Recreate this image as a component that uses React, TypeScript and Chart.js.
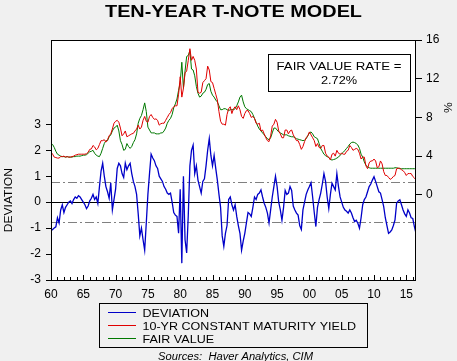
import React, { useEffect, useRef } from 'react';
import { Chart, registerables } from 'chart.js';

Chart.register(...registerables);

// ---------- data (quarterly, starting 1960 Q1) ----------
const START_YEAR = 1960;
const END_YEAR = 2016.5;
const PERIODS_PER_YEAR = 4;

const DEVIATION = [
  -1.1, -1.05, -1.0, -0.95,
  -0.6, -0.8, -0.3, -0.1,
  -0.4, -0.2, -0.1, 0.0,
  0.05, -0.05, 0.1, 0.2,
  0.15, 0.25, 0.2, 0.1,
  0.0, -0.1, -0.25, -0.15,
  0.05, 0.15, 0.3, 0.1,
  0.2, -0.05, 0.6, 1.2,
  1.5, 1.0, 0.6, 0.4,
  0.15, 0.75, -0.3, 0.1,
  0.5, 1.3, 1.5, 1.4,
  1.1, 0.95, 1.5, 1.25,
  1.4, 1.5, 1.1, 0.8,
  0.6, 0.3, -0.45, -1.3,
  -1.0, -1.45, -1.85, -0.8,
  0.3, 1.1, 1.85, 1.7,
  1.6, 1.4, 1.3, 1.0,
  0.9, 0.8, 0.6, 0.5,
  0.35, 0.3, 0.35, 0.0,
  -0.4, -0.5, -0.55, -1.2,
  0.5, -2.35, 1.0, -1.45,
  -1.96, -0.5, 1.4, 2.0,
  2.2, 1.1, 1.4, 0.85,
  0.6, 0.35, 0.8, 0.9,
  1.4, 2.0, 2.45, 1.8,
  1.4, 1.8, 1.3, 0.85,
  0.3, -0.2, -1.3, -1.7,
  -1.2, -0.9, 0.1, 0.2,
  -0.1, -0.3, -0.1, -0.55,
  -0.9, -1.2, -1.85, -1.5,
  -1.2, -0.8, -0.4, -0.45,
  -0.55, -0.2, 0.2, 0.1,
  0.3, 0.35, 0.47, 0.2,
  -0.04, -0.2, -0.42, -0.8,
  -0.3, 0.2, 0.6, 1.0,
  0.6, 0.0, -0.3, -0.7,
  -0.2, 0.45, 0.3, 0.35,
  0.6, 0.45, -0.15, -0.3,
  -0.42, -0.5, -0.9, -1.05,
  -0.3, 0.0, 0.3, 0.47,
  0.6, 0.75, 0.2, -0.4,
  -0.94, -0.2, 0.1, 0.35,
  0.7, 1.1, 0.8, 0.2,
  -0.25, 0.3, 0.73, 0.6,
  0.47, 1.1, 0.6, 0.2,
  0.0, -0.2, -0.3, -0.35,
  -0.42, -0.3, -0.42, -0.6,
  -0.75, -0.7, -0.81, -1.0,
  -0.6, -0.1, 0.1, 0.2,
  0.4, 0.6, 0.7, 0.85,
  0.98, 0.8, 0.6, 0.4,
  0.35, 0.1, -0.17, -0.6,
  -0.9, -1.2, -1.15, -1.07,
  -0.9, -0.68, -0.04, 0.05,
  0.09, -0.1, -0.3, -0.45,
  -0.55, -0.3, -0.42, -0.6,
  -0.63, -0.94, -1.2,
];

const YIELD_10Y = [
  4.4, 4.2, 3.9, 3.85,
  3.8, 3.8, 3.95, 3.95,
  4.0, 3.9, 3.95, 3.9,
  3.9, 3.95, 4.0, 4.1,
  4.15, 4.2, 4.2, 4.2,
  4.2, 4.2, 4.25, 4.4,
  4.7, 4.75, 5.1, 4.95,
  4.65, 4.8, 5.2, 5.6,
  5.6, 5.7, 5.45, 5.7,
  6.1, 6.3, 6.8, 7.4,
  7.6, 7.7, 7.5, 6.9,
  6.1, 6.3, 6.6, 6.0,
  6.1, 6.2, 6.3, 6.35,
  6.6, 6.8, 7.2, 6.8,
  7.0, 7.7, 8.1, 7.6,
  7.5, 8.1, 8.3, 8.0,
  7.8, 7.85, 7.7, 7.2,
  7.35, 7.4, 7.4, 7.7,
  8.0, 8.3, 8.5, 8.9,
  9.1, 9.2, 9.2, 10.4,
  12.2, 10.1, 11.0, 12.6,
  12.8, 13.9, 15.1, 13.9,
  14.3, 13.9, 13.0, 10.6,
  10.5, 10.6, 11.6, 11.8,
  12.0, 13.3, 12.9, 11.7,
  11.6, 11.0, 10.4, 9.8,
  8.6, 7.6, 7.3, 7.3,
  7.2, 8.3, 8.9, 9.1,
  8.4, 8.9, 9.1, 8.8,
  9.2, 8.8, 8.1, 7.9,
  8.4, 8.7, 8.7, 8.4,
  8.0, 8.1, 7.9, 7.4,
  7.3, 7.4, 6.6, 6.7,
  6.3, 5.9, 5.6, 5.5,
  6.1, 7.1, 7.3, 7.8,
  7.5, 6.6, 6.3, 5.9,
  5.9, 6.7, 6.7, 6.3,
  6.6, 6.7, 6.2, 5.9,
  5.6, 5.6, 5.2, 4.7,
  5.0, 5.5, 5.9, 6.1,
  6.5, 6.2, 5.9, 5.6,
  5.0, 5.3, 4.9, 4.8,
  5.1, 5.1, 4.3, 4.0,
  3.9, 3.6, 4.2, 4.3,
  4.0, 4.6, 4.3, 4.2,
  4.3, 4.2, 4.2, 4.5,
  4.6, 5.1, 4.9, 4.6,
  4.7, 4.8, 4.7, 4.3,
  3.7, 3.9, 3.9, 3.0,
  2.7, 3.3, 3.5, 3.5,
  3.7, 3.5, 2.8, 2.9,
  3.5, 3.2, 2.4, 2.0,
  2.0, 1.8, 1.6, 1.7,
  1.9, 2.0, 2.7, 2.75,
  2.75, 2.6, 2.5, 2.3,
  2.0, 2.2, 2.2, 2.2,
  1.9, 1.75, 1.55,
];

const FAIR_VALUE = [
  5.3, 5.2, 4.9, 4.5,
  4.2, 4.1, 4.0, 3.95,
  3.95, 3.9, 3.95, 3.9,
  3.9, 3.9, 3.95, 3.95,
  4.0, 4.0, 4.0, 4.05,
  4.1, 4.1, 4.15, 4.3,
  4.45, 4.5, 4.6, 4.3,
  4.1, 4.0, 3.95, 4.3,
  4.8, 5.3, 5.6, 5.6,
  6.0, 6.2, 6.6, 6.9,
  7.0, 7.2, 6.6, 5.6,
  5.2, 4.6, 4.7, 5.3,
  5.0, 4.8, 5.0, 5.4,
  5.7, 6.3, 7.4, 7.9,
  8.2, 8.8, 9.5, 8.6,
  7.0, 6.7, 6.4, 6.4,
  6.4, 6.3, 6.3, 6.3,
  6.4, 6.4, 6.6, 6.9,
  7.4, 7.7, 7.9, 8.3,
  9.0, 9.4, 9.9, 10.8,
  11.6, 13.7, 11.0, 12.8,
  14.3, 14.4, 14.9, 13.0,
  12.9, 12.3, 11.2, 10.5,
  10.1, 10.2, 10.5, 10.6,
  10.9, 11.4, 11.5, 10.7,
  10.3, 10.1, 9.8, 9.6,
  9.2, 8.8, 8.8, 8.9,
  8.9, 8.8, 8.7, 8.8,
  8.8, 8.8, 8.9, 9.2,
  9.6, 10.1, 10.3, 9.6,
  9.1, 8.9, 8.8, 8.7,
  8.6, 8.3, 7.9, 7.5,
  7.1, 6.8, 6.6, 6.4,
  6.2, 6.0, 5.8, 5.7,
  5.9, 6.4, 6.9, 6.9,
  6.7, 6.5, 6.4, 6.3,
  6.2, 6.2, 6.2, 6.1,
  6.05, 6.0, 6.0, 5.9,
  5.8, 5.75, 5.7, 5.65,
  5.6, 5.65, 5.8, 6.1,
  6.4, 6.5, 6.3, 6.0,
  5.9, 5.8, 5.3, 4.8,
  4.5, 4.2, 4.05, 3.95,
  3.85, 3.65, 3.6, 3.65,
  3.7, 3.8, 3.9, 4.1,
  4.25, 4.4, 4.6, 4.8,
  5.0, 5.25, 5.4, 5.45,
  5.4, 5.3, 5.15, 4.8,
  4.2, 3.9, 3.4, 3.05,
  2.9, 2.8, 2.75, 2.75,
  2.75, 2.75, 2.75, 2.75,
  2.75, 2.75, 2.75, 2.75,
  2.75, 2.75, 2.75, 2.75,
  2.75, 2.8, 2.8, 2.75,
  2.7, 2.7, 2.7, 2.7,
  2.7, 2.7, 2.7, 2.7,
  2.7, 2.7, 2.7,
];

const X_TICKS = [1960, 1965, 1970, 1975, 1980, 1985, 1990, 1995, 2000, 2005, 2010, 2015];
const DEV_TICKS = [-3, -2, -1, 0, 1, 2, 3];
const PCT_TICKS = [0, 4, 8, 12, 16];
const DEV_RANGE = [-3, 6.25];
const PCT_RANGE = [-8.8, 16];
const BAND = 0.78;

const TITLE = 'TEN-YEAR T-NOTE MODEL';
const SERIES_LABELS = ['DEVIATION', '10-YR CONSTANT MATURITY YIELD', 'FAIR VALUE'];
const SERIES_COLORS = ['#0000C8', '#E00000', '#007800'];
const BOX_LINES = ['FAIR VALUE RATE =', '2.72%'];
const LEFT_TITLE = 'DEVIATION';
const RIGHT_TITLE = '%';
const SOURCE = 'Sources:  Haver Analytics, CIM';

// ---------- helpers ----------
const FONT = '"Liberation Sans", Arial, Helvetica, sans-serif';

const toPoints = (vals: number[]) =>
  vals.map((v, i) => ({ x: START_YEAR + i / PERIODS_PER_YEAR, y: v }));

function drawText(
  ctx: CanvasRenderingContext2D,
  text: string,
  x: number,
  y: number,
  font: string,
  opts: { width?: number; sx?: number; align?: CanvasTextAlign; rotate?: boolean } = {}
) {
  ctx.save();
  ctx.font = font;
  const w = ctx.measureText(text).width;
  const sx = opts.width ? opts.width / w : opts.sx ?? 1;
  ctx.translate(x, y);
  if (opts.rotate) ctx.rotate(-Math.PI / 2);
  ctx.scale(sx, 1);
  ctx.textAlign = opts.align ?? 'center';
  ctx.textBaseline = 'alphabetic';
  ctx.fillStyle = '#000';
  ctx.fillText(text, 0, 0);
  ctx.restore();
}

const decorPlugin = {
  id: 'decor',
  beforeDatasetsDraw(chart: any) {
    const { ctx, chartArea: a, scales } = chart;
    const y = scales.y;
    ctx.save();
    ctx.fillStyle = '#ffffff';
    ctx.fillRect(a.left, a.top, a.right - a.left, a.bottom - a.top);
    // band lines
    ctx.strokeStyle = '#808080';
    ctx.lineWidth = 1;
    ctx.setLineDash([9, 3, 2, 3]);
    [BAND, -BAND].forEach((v) => {
      const py = Math.round(y.getPixelForValue(v)) + 0.5;
      ctx.beginPath();
      ctx.moveTo(a.left, py);
      ctx.lineTo(a.right, py);
      ctx.stroke();
    });
    ctx.setLineDash([]);
    ctx.strokeStyle = '#000';
    const pz = Math.round(y.getPixelForValue(0)) + 0.5;
    ctx.beginPath();
    ctx.moveTo(a.left, pz);
    ctx.lineTo(a.right, pz);
    ctx.stroke();
    ctx.restore();
  },
  afterDatasetsDraw(chart: any) {
    const { ctx, chartArea: a, scales } = chart;
    const x = scales.x;
    const y = scales.y;
    const y1 = scales.y1;
    ctx.save();
    // frame
    ctx.strokeStyle = '#000';
    ctx.lineWidth = 1;
    ctx.strokeRect(a.left + 0.5, a.top + 0.5, a.right - a.left - 1, a.bottom - a.top);
    // inner bottom ticks (yearly minor, 5-year major)
    ctx.beginPath();
    for (let yr = Math.ceil(START_YEAR); yr <= END_YEAR; yr++) {
      const px = Math.round(x.getPixelForValue(yr)) + 0.5;
      const len = yr % 5 === 0 ? 5 : 3;
      ctx.moveTo(px, a.bottom);
      ctx.lineTo(px, a.bottom - len);
    }
    ctx.stroke();

    // annotation box
    const bx = 268.5, by = 54.5, bw = 142, bh = 37;
    ctx.fillStyle = '#ffffff';
    ctx.fillRect(bx, by, bw, bh);
    ctx.strokeRect(bx, by, bw, bh);
    drawText(ctx, BOX_LINES[0], 339, 69.5, `11px ${FONT}`, { width: 125 });
    drawText(ctx, BOX_LINES[1], 339, 84, `11px ${FONT}`, { sx: 1.16 });

    // title
    drawText(ctx, TITLE, 233.5, 16.5, `bold 16px ${FONT}`, { width: 257 });

    // axis titles
    const cy = (y.getPixelForValue(DEV_TICKS[0]) + y.getPixelForValue(DEV_TICKS[DEV_TICKS.length - 1])) / 2;
    drawText(ctx, LEFT_TITLE, 11.5, cy - 2, `11px ${FONT}`, { width: 64, rotate: true });
    drawText(ctx, RIGHT_TITLE, 452, y1.getPixelForValue(9), `11px ${FONT}`, { sx: 1.1, rotate: true });

    // legend
    const lx = 99.5, ly = 303.5, lw = 268, lh = 44;
    ctx.strokeStyle = '#000';
    ctx.strokeRect(lx, ly, lw, lh);
    chart.data.datasets.forEach((ds: any, i: number) => {
      const rowY = 312.5 + i * 13;
      ctx.strokeStyle = ds.borderColor;
      ctx.lineWidth = 1;
      ctx.beginPath();
      ctx.moveTo(108, rowY);
      ctx.lineTo(136, rowY);
      ctx.stroke();
      drawText(ctx, ds.label, 142.5, rowY + 4, `11px ${FONT}`, { sx: 1.14, align: 'left' });
    });

    // source
    drawText(ctx, SOURCE, 235.5, 359.5, `italic 10px ${FONT}`, { width: 155 });
    ctx.restore();
  },
};

export default function App() {
  const ref = useRef<HTMLCanvasElement | null>(null);

  useEffect(() => {
    if (!ref.current) return;
    const tickFont = { family: FONT, size: 12 };
    const chart = new Chart(ref.current, {
      type: 'line',
      data: {
        datasets: [
          {
            label: SERIES_LABELS[0],
            data: toPoints(DEVIATION),
            borderColor: SERIES_COLORS[0],
            borderWidth: 1.3,
            pointRadius: 0,
            tension: 0,
            yAxisID: 'y',
          },
          {
            label: SERIES_LABELS[1],
            data: toPoints(YIELD_10Y),
            borderColor: SERIES_COLORS[1],
            borderWidth: 1,
            pointRadius: 0,
            tension: 0,
            yAxisID: 'y1',
          },
          {
            label: SERIES_LABELS[2],
            data: toPoints(FAIR_VALUE),
            borderColor: SERIES_COLORS[2],
            borderWidth: 1,
            pointRadius: 0,
            tension: 0,
            yAxisID: 'y1',
          },
        ],
      },
      options: {
        animation: false,
        responsive: true,
        maintainAspectRatio: false,
        layout: { padding: { top: 40, left: 0, right: 0, bottom: 0 } },
        plugins: {
          legend: { display: false },
          title: { display: false },
          tooltip: { enabled: false },
        },
        scales: {
          x: {
            type: 'linear',
            min: START_YEAR,
            max: END_YEAR,
            grid: { display: false },
            border: { display: false },
            afterBuildTicks: (s: any) => {
              s.ticks = X_TICKS.map((v) => ({ value: v }));
            },
            afterFit: (s: any) => {
              s.height = 81;
            },
            ticks: {
              autoSkip: false,
              maxRotation: 0,
              padding: -1,
              color: '#000',
              font: tickFont,
              callback: (v: any) => String(Number(v) % 100).padStart(2, '0'),
            },
          },
          y: {
            type: 'linear',
            position: 'left',
            min: DEV_RANGE[0],
            max: DEV_RANGE[1],
            grid: { drawOnChartArea: false, drawTicks: true, tickLength: 5, color: '#000' },
            border: { display: false },
            afterBuildTicks: (s: any) => {
              s.ticks = DEV_TICKS.map((v) => ({ value: v }));
            },
            afterFit: (s: any) => {
              s.width = 51;
            },
            ticks: { color: '#000', font: tickFont, padding: 5 },
          },
          y1: {
            type: 'linear',
            position: 'right',
            min: PCT_RANGE[0],
            max: PCT_RANGE[1],
            grid: { drawOnChartArea: false, drawTicks: true, tickLength: 6, color: '#000' },
            border: { display: false },
            afterBuildTicks: (s: any) => {
              s.ticks = PCT_TICKS.map((v) => ({ value: v }));
            },
            afterFit: (s: any) => {
              s.width = 41;
            },
            ticks: { color: '#000', font: tickFont, padding: 4 },
          },
        },
      },
      plugins: [decorPlugin],
    } as any);
    return () => chart.destroy();
  }, []);

  return (
    <div
      style={{
        position: 'absolute',
        left: 0,
        top: 0,
        width: 457,
        height: 361,
        background: '#f0f0f0',
      }}
    >
      <canvas ref={ref} />
    </div>
  );
}
